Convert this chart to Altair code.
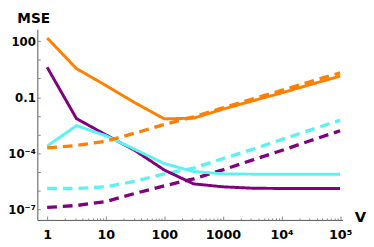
import math
import altair as alt
import pandas as pd

V = [1, 3.16, 10, 31.6, 100, 316, 1000, 3162, 10000, 31623, 100000]

orange_solid = [148, 3.4, 0.43, 0.05, 0.0069, 0.0076, 0.023, 0.063, 0.17, 0.48, 1.35]
orange_dashed = [1.95e-4, 2.6e-4, 4.4e-4, 1.2e-3, 3.5e-3, 8.9e-3, 0.027, 0.079, 0.23, 0.69, 2.0]
cyan_solid = [2.4e-4, 3.0e-3, 8.7e-4, 1.6e-4, 2.8e-5, 1.05e-5, 7.9e-6, 7.6e-6, 7.6e-6, 7.6e-6, 7.6e-6]
cyan_dashed = [1.3e-6, 1.3e-6, 1.6e-6, 3.2e-6, 7.9e-6, 1.6e-5, 5.2e-5, 1.6e-4, 5.4e-4, 1.8e-3, 5.9e-3]
purple_solid = [4.0, 7.2e-3, 9.8e-4, 1.4e-4, 1.26e-5, 2.3e-6, 1.6e-6, 1.35e-6, 1.3e-6, 1.3e-6, 1.3e-6]
purple_dashed = [1.26e-7, 1.6e-7, 2.6e-7, 7.1e-7, 1.8e-6, 4.3e-6, 1.3e-5, 4.3e-5, 1.4e-4, 4.8e-4, 1.6e-3]

series = [
    ("purple dashed", "purple", "dashed", purple_dashed),
    ("cyan dashed", "cyan", "dashed", cyan_dashed),
    ("purple solid", "purple", "solid", purple_solid),
    ("cyan solid", "cyan", "solid", cyan_solid),
    ("orange solid", "orange", "solid", orange_solid),
    ("orange dashed", "orange", "dashed", orange_dashed),
]

hues = ["orange", "cyan", "purple"]
hue_colors = ["#FF8000", "#5CF2F2", "#800080"]

x_label_values = [1, 10, 100, 1000, 10000, 100000]
x_label_texts = ["1", "10", "100", "1000", "10\u2074", "10\u2075"]
y_label_values = [100, 0.1, 1e-4, 1e-7]
y_label_texts = ["100", "0.1", "10\u207b\u2074", "10\u207b\u2077"]

x_minor = [k * 10 ** e for e in range(0, 5) for k in range(1, 10)] + [100000]
y_minor = [10.0 ** e for e in range(-7, 3)]

rows = []
for order, (name, hue, style, vals) in enumerate(series):
    for v, m in zip(V, vals):
        rows.append({"V": v, "MSE": m, "series": name, "hue": hue, "style": style, "o": order})
df = pd.DataFrame(rows)

W, H = 312, 195
xscale = alt.Scale(type="log", domain=[0.68, 1.1e5], nice=False)
yscale = alt.Scale(type="log", domain=[2.7e-8, 436], nice=False)


def label_expr(values, texts):
    expr = "''"
    for v, t in reversed(list(zip(values, texts))):
        expr = f"round(log(datum.value)/LN10) == {round(math.log10(v))} ? '{t}' : ({expr})"
    return expr


FONT = "DejaVu Sans"

x_axis = alt.Axis(
    values=x_label_values, labelExpr=label_expr(x_label_values, x_label_texts),
    tickSize=0, labelPadding=9, grid=False, domainColor="#555555", domainWidth=1,
    labelFont=FONT, labelFontWeight="bold", labelFontSize=13, labelColor="black",
    title="V", titleFont=FONT, titleFontWeight="bold", titleFontSize=15, titleColor="black",
    titleAngle=0, titleAlign="left", titleBaseline="alphabetic", titleX=W + 12, titleY=2,
)
y_axis = alt.Axis(
    values=y_label_values, labelExpr=label_expr(y_label_values, y_label_texts),
    tickSize=0, labelPadding=2, grid=False, domainColor="#555555", domainWidth=1,
    labelFont=FONT, labelFontWeight="bold", labelFontSize=12, labelColor="black",
    title="MSE", titleFont=FONT, titleFontWeight="bold", titleFontSize=14, titleColor="black",
    titleAngle=0, titleAlign="left", titleBaseline="alphabetic", titleX=-21, titleY=-7,
)

lines = alt.Chart(df).mark_line(clip=True, strokeCap="butt", strokeJoin="miter").encode(
    x=alt.X("V:Q", scale=xscale, axis=x_axis),
    y=alt.Y("MSE:Q", scale=yscale, axis=y_axis),
    color=alt.Color("hue:N", scale=alt.Scale(domain=hues, range=hue_colors), legend=None),
    strokeDash=alt.StrokeDash("style:N", scale=alt.Scale(domain=["solid", "dashed"], range=[[1, 0], [10, 6]]), legend=None),
    strokeWidth=alt.StrokeWidth("style:N", scale=alt.Scale(domain=["solid", "dashed"], range=[3, 3.4]), legend=None),
    detail="series:N",
    order="V:Q",
)

major_x = "abs(log(datum.value)/LN10 - round(log(datum.value)/LN10)) < 0.001"
ticks = alt.Chart(df).mark_point(opacity=0).encode(
    x=alt.X("V:Q", scale=xscale, axis=alt.Axis(
        orient="top", offset=-H, values=x_minor, labels=False, domain=False, title=None, grid=False,
        tickColor="#888888", tickWidth=1,
        tickSize={"condition": {"test": major_x, "value": 4}, "value": 2})),
    y=alt.Y("MSE:Q", scale=yscale, axis=alt.Axis(
        orient="right", offset=-W, values=y_minor, labels=False, domain=False, title=None, grid=False,
        tickColor="#888888", tickWidth=1, tickSize=3)),
)

chart = alt.layer(lines, ticks).resolve_axis(x="independent", y="independent").properties(
    width=W, height=H,
    autosize=alt.AutoSizeParams(type="none"),
    padding={"left": 30, "top": 19, "right": 24, "bottom": 25},
).configure_view(stroke=None)

chart.save("out.html", embed_options={"renderer": "svg", "actions": False})
